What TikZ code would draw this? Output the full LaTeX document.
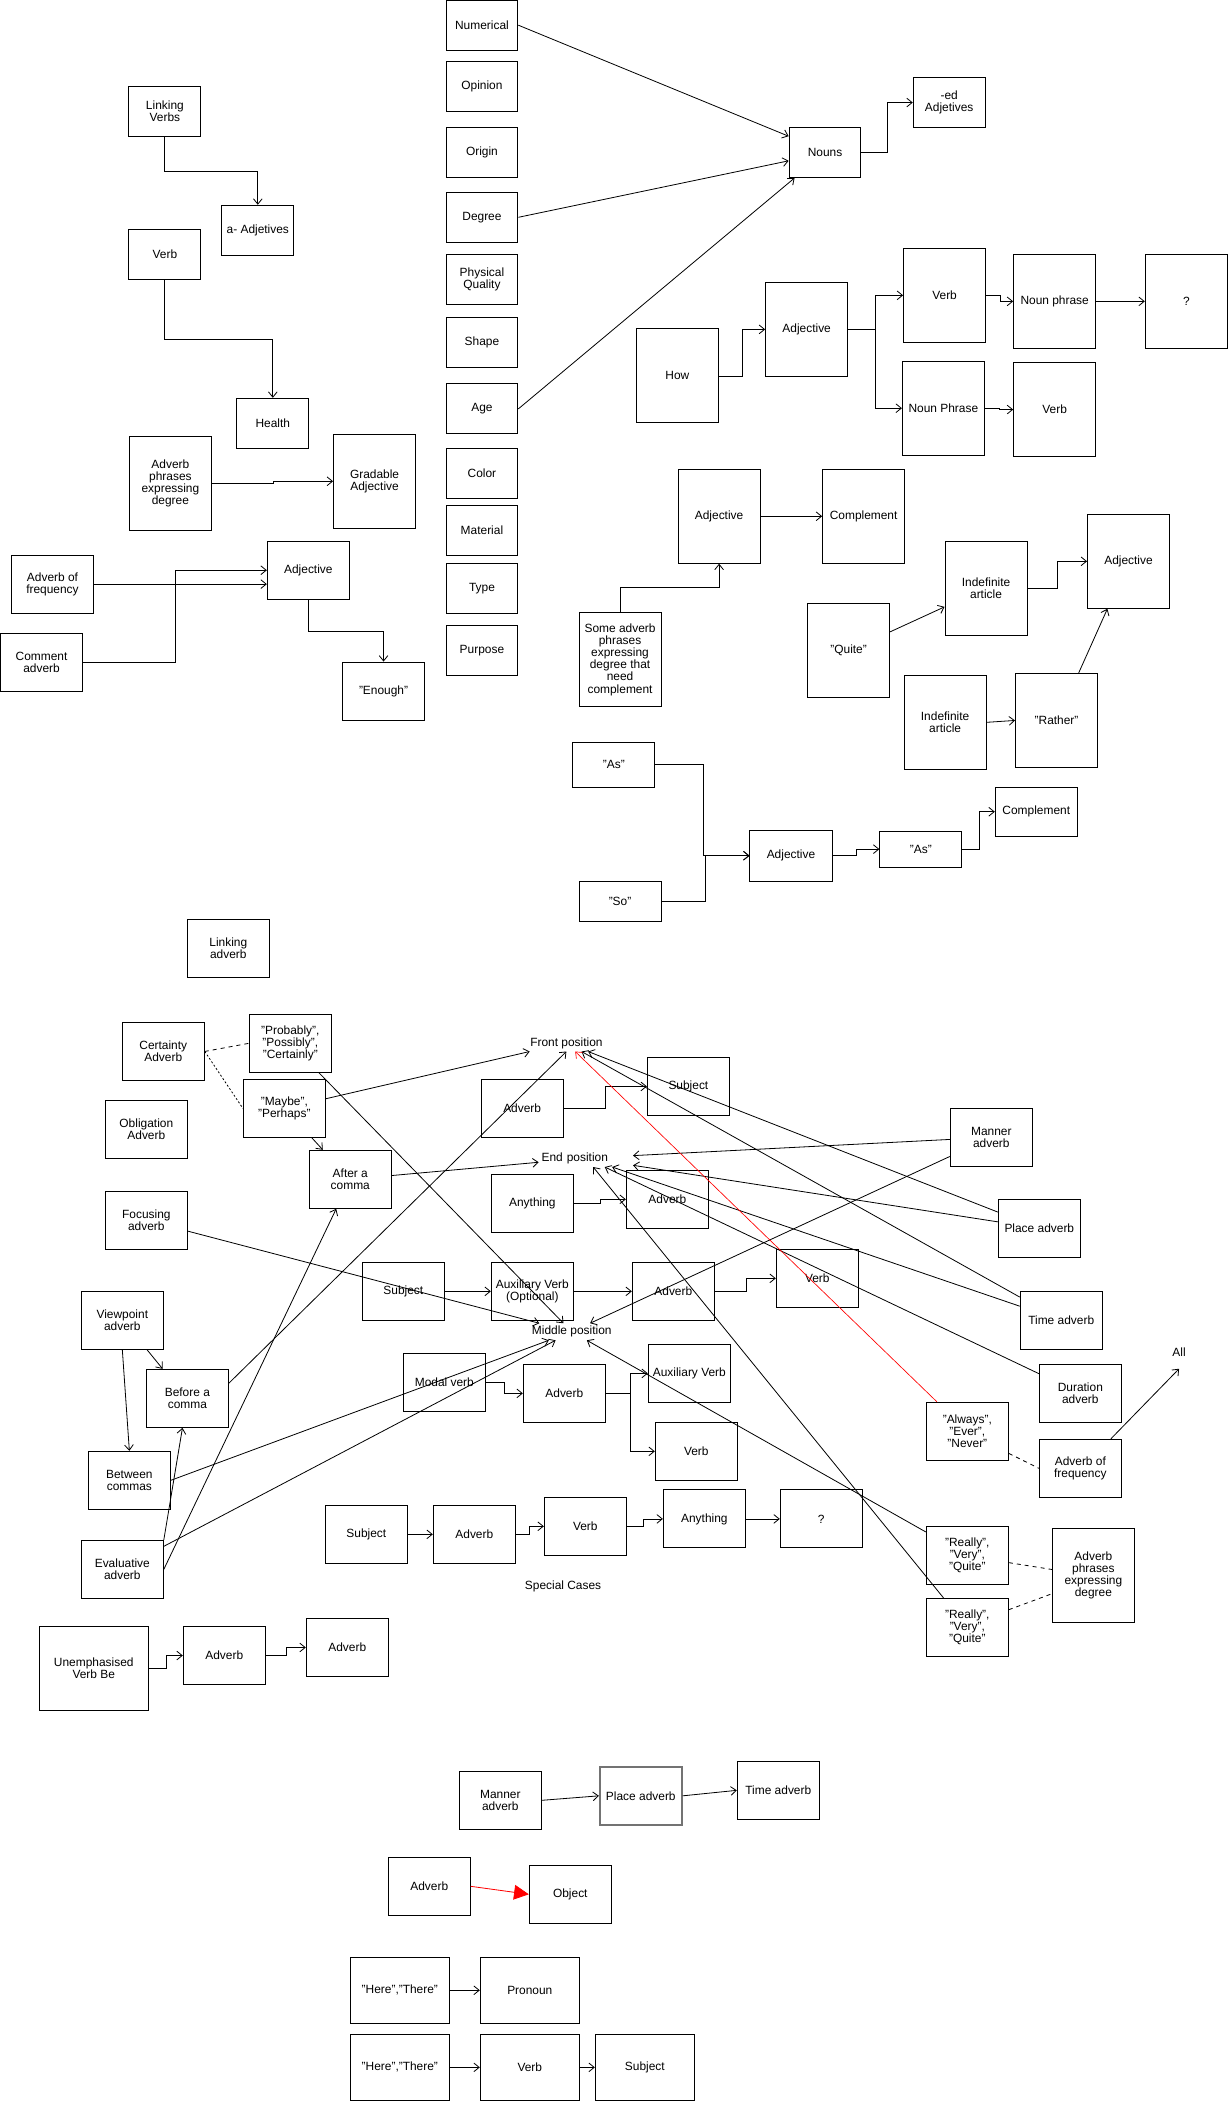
\documentclass[tikz,border=0pt]{standalone}
\usepackage{fontspec}
\setmainfont{Liberation Sans}
\usetikzlibrary{arrows.meta}

\begin{document}
\begin{tikzpicture}[x=1pt, y=-1pt,
		font=\fontsize{8.9}{9.1}\selectfont,
		>={Straight Barb[length=4pt,width=6.5pt]},
		box/.style={draw, line width=0.7pt, minimum width=61.2pt, minimum height=43.3pt, align=center, inner sep=1pt},
		sbox/.style={box, minimum width=53.6pt, minimum height=37.4pt},
		tbox/.style={box, minimum height=70.1pt},
		hbox/.style={box, minimum width=73.9pt, minimum height=49.2pt},
		lbl/.style={inner sep=2pt},
		link/.style={line width=0.6pt},
		arr/.style={link, ->},
		dashline/.style={link, dash pattern=on 3pt off 3pt}]
		\useasboundingbox (0,0) rectangle (916,1567.2);
		\fill[white] (0,0) rectangle (916,1567.2);
		
		\node[sbox] (lverbs) at (123,83) {Linking\\Verbs};
		\node[sbox] (aadj) at (192.3,171.8) {a- Adjetives};
		\node[sbox] (verba) at (123,189.5) {Verb};
		\node[sbox] (health) at (203.5,315.8) {Health};
		\node[tbox] (apeda) at (127.1,360.5) {Adverb\\phrases\\expressing\\degree};
		\node[tbox] (grad) at (279.4,359) {Gradable\\Adjective};
		\node[box] (aofa) at (39.15,435.7) {Adverb of\\frequency};
		\node[box] (comm) at (31,494.05) {Comment\\adverb};
		\node[box] (adja) at (230,425.35) {Adjective};
		\node[box] (enough) at (286.1,515.5) {"Enough"};
		
		\node[sbox] (numer) at (359.5,18.8) {Numerical};
		\node[sbox] (opin) at (359.5,64.3) {Opinion};
		\node[sbox] (origin) at (359.5,114) {Origin};
		\node[sbox] (degr) at (359.5,162.1) {Degree};
		\node[sbox] (phys) at (359.5,208.2) {Physical\\Quality};
		\node[sbox] (shape) at (359.5,255.2) {Shape};
		\node[sbox] (age) at (359.5,305) {Age};
		\node[sbox] (color) at (359.5,353.3) {Color};
		\node[sbox] (mater) at (359.5,395.7) {Material};
		\node[sbox] (type) at (359.5,438.8) {Type};
		\node[sbox] (purp) at (359.5,485) {Purpose};
		
		\node[sbox] (nouns) at (615.4,113.7) {Nouns};
		\node[sbox] (edadj) at (708,76.5) {-ed\\Adjetives};
		
		\node[tbox] (how) at (505.3,280.4) {How};
		\node[tbox] (adjm) at (601.7,245.7) {Adjective};
		\node[tbox] (verbm) at (704.6,220.3) {Verb};
		\node[tbox] (nphr) at (786.7,224.8) {Noun phrase};
		\node[tbox] (qmark) at (884.9,224.8) {?};
		\node[tbox] (nphrb) at (703.7,304.5) {Noun Phrase};
		\node[tbox] (verbn) at (786.7,305.5) {Verb};
		
		\node[tbox] (adjc) at (536.4,385.1) {Adjective};
		\node[tbox] (compc) at (644.2,385.1) {Complement};
		\node[tbox] (sap) at (462.5,491.9) {Some adverb\\phrases\\expressing\\degree that\\need\\complement};
		\node[tbox] (quite) at (633,485.1) {"Quite"};
		\node[tbox] (inda) at (735.5,438.9) {Indefinite\\article};
		\node[tbox] (adjr) at (841.8,418.7) {Adjective};
		\node[tbox] (indb) at (705,538.8) {Indefinite\\article};
		\node[tbox] (rather) at (788.1,537.4) {"Rather"};
		
		\node[box, minimum height=33.6pt] (asa) at (457.9,570.5) {"As"};
		\node[box, minimum height=29.8pt] (so) at (462.5,672.3) {"So"};
		\node[box, minimum height=38.3pt] (adjb) at (590,638.3) {Adjective};
		\node[box, minimum height=26.6pt] (asb) at (686.9,633.4) {"As"};
		\node[box, minimum height=36.5pt] (compb) at (773,605.5) {Complement};
		
		\draw[arr] (lverbs.south) -- ++(0,25.8) -| (aadj.north);
		\draw[arr] (verba.south) -- ++(0,44.7) -| (health.north);
		\draw[arr] (apeda.east) -- ++(45.6,0) |- (grad.west);
		\draw[arr] (aofa.east) -- (aofa.east -| adja.west);
		\draw[arr] (comm.east) -- ++(69,0) |- (adja.west);
		\draw[arr] (adja.south) -- ++(0,23.6) -| (enough.north);
		\draw[arr] (numer.east) -- (nouns.156);
		\draw[arr] (degr.east) -- (nouns.193);
		\draw[arr] (age.east) -- (nouns.220);
		\draw[arr] (nouns.east) -- ++(19.7,0) |- (edadj.west);
		\draw[arr] (how.east) -- ++(17.5,0) |- (adjm.west);
		\draw[arr] (adjm.east) -- ++(20.5,0) |- (verbm.west);
		\draw[arr] (adjm.east) -- ++(20.5,0) |- (nphrb.west);
		\draw[arr] (verbm.east) -- ++(10.5,0) |- (nphr.west);
		\draw[arr] (nphr.east) -- (qmark.west);
		\draw[arr] (nphrb.east) -- ++(11,0) |- (verbn.west);
		\draw[arr] (adjc.east) -- (compc.west);
		\draw[arr] (sap.north) -- ++(0,-18.4) -| (adjc.south);
		\draw[arr] (quite.24) -- (inda.204);
		\draw[arr] (inda.east) -- ++(22.4,0) |- (adjr.west);
		\draw[arr] (indb.east) -- (rather.west);
		\draw[arr] (rather.65) -- (adjr.246);
		\draw[arr] (asa.east) -- ++(35.7,0) |- (adjb.west);
		\draw[arr] (so.east) -- ++(33,0) |- (adjb.west);
		\draw[arr] (adjb.east) -- ++(18.2,0) |- (asb.west);
		\draw[arr] (asb.east) -- ++(12.4,0) |- (compb.west);
		
		\node[box] (linkadv) at (170.3,707.4) {Linking\\adverb};
		\node[box] (cert) at (121.8,784.3) {Certainty\\Adverb};
		\node[box] (prob) at (216.55,778.25) {"Probably",\\"Possibly",\\"Certainly"};
		\node[box] (maybe) at (212.1,826.75) {"Maybe",\\"Perhaps"};
		\node[box] (oblig) at (109.15,842.4) {Obligation\\Adverb};
		\node[box] (after) at (261.3,879.65) {After a\\comma};
		\node[box] (focus) at (109.15,910.25) {Focusing\\adverb};
		\node[lbl] (front) at (422.5,778) {Front position};
		\node[lbl, text width=66pt, align=left, minimum height=13pt] (endpos) at (437,863.8) {End position};
		\node[lbl] (mid) at (426.5,993.4) {Middle position};
		\node[box] (advf) at (389.5,826.7) {Adverb};
		\node[box] (subjf) at (513.5,810.4) {Subject};
		\node[box] (anyth) at (397.1,897.6) {Anything};
		\node[box] (adve) at (497.8,894.6) {Adverb};
		\node[box] (manner) at (739.45,848.35) {Manner\\adverb};
		\node[box] (place) at (775.25,916.2) {Place adverb};
		\node[box] (subjm) at (300.85,963.25) {Subject};
		\node[box] (auxo) at (397.1,963.25) {Auxiliary Verb\\(Optional)};
		\node[box] (advm) at (502.25,963.25) {Adverb};
		\node[box] (verbr) at (609.65,953.55) {Verb};
		\node[box] (time) at (791.6,984.85) {Time adverb};
		\node[box] (viewp) at (91.25,984.85) {Viewpoint\\adverb};
		\node[box] (bac) at (139.75,1043.05) {Before a\\comma};
		\node[box] (modal) at (331.45,1031.1) {Modal verb};
		\node[box] (advd) at (420.95,1039.35) {Adverb};
		\node[box] (auxv) at (514.2,1024.45) {Auxiliary Verb};
		\node[box] (verbd) at (519.4,1082.6) {Verb};
		\node[box] (dur) at (805.85,1039.3) {Duration\\adverb};
		\node[lbl, minimum height=25pt] (all) at (879.5,1008.3) {All};
		\node[box] (alw) at (721.55,1067.65) {"Always",\\"Ever",\\"Never"};
		\node[box] (aofr) at (805.85,1095.25) {Adverb of\\frequency};
		\node[box] (betw) at (96.5,1104.2) {Between\\commas};
		\node[box] (eval) at (91.25,1170.6) {Evaluative\\adverb};
		\node[box] (subjs) at (273.25,1144.5) {Subject};
		\node[box] (advs) at (353.8,1144.5) {Adverb};
		\node[box] (verbs) at (436.6,1138.5) {Verb};
		\node[box] (anys) at (525.4,1133) {Anything};
		\node[box] (qs) at (612.6,1133) {?};
		\node[box] (rvqa) at (721.55,1160.15) {"Really",\\"Very",\\"Quite"};
		\node[box] (rvqb) at (721.55,1213.85) {"Really",\\"Very",\\"Quite"};
		\node[tbox] (apedr) at (815.55,1175.05) {Adverb\\phrases\\expressing\\degree};
		\node[lbl] (special) at (420,1183) {Special Cases};
		\node[box, minimum width=81.3pt, minimum height=62.4pt] (uvb) at (69.95,1244.6) {Unemphasised\\Verb Be};
		\node[box] (advu) at (167.3,1234.9) {Adverb};
		\node[box] (advv) at (259.05,1228.9) {Adverb};
		
		\node[box] (manb) at (373.2,1342.9) {Manner\\adverb};
		\node[box, draw=black!55, line width=1.3pt] (placeb) at (478,1339.55) {Place adverb};
		\node[box] (timeb) at (580.55,1335.45) {Time adverb};
		\node[box] (advo) at (320.2,1407.05) {Adverb};
		\node[box] (obj) at (425.4,1413) {Object};
		\node[hbox] (herea) at (298.25,1484.6) {"Here","There"};
		\node[hbox] (pron) at (395.2,1484.6) {Pronoun};
		\node[hbox] (hereb) at (298.25,1542.1) {"Here","There"};
		\node[hbox] (verbz) at (395.2,1542.1) {Verb};
		\node[hbox] (subjz) at (481,1542.1) {Subject};
		
		\draw[dashline] (cert.east) -- (prob.west);
		\draw[link, dash pattern=on 1.5pt off 1.5pt] (cert.east) -- (maybe.west);
		\draw[arr] (maybe.-47) -- (after.133);
		\draw[arr] (maybe) -- (front);
		\draw[arr] (prob) -- (mid);
		\draw[arr] (after) -- (endpos);
		\draw[arr] (focus) -- (mid);
		\draw[arr] (bac.20) -- (front.south);
		\draw[arr] (advf.east) -- ++(31.3,0) |- (subjf.west);
		\draw[arr] (anyth.east) -- ++(20,0) |- (adve.west);
		\draw[arr] (manner) -- (endpos);
		\draw[arr] (manner) -- (mid);
		\draw[arr] (place) -- (front);
		\draw[arr] (place) -- (endpos);
		\draw[arr] (time) -- (front);
		\draw[arr] (time) -- (endpos);
		\draw[arr] (dur) -- (endpos);
		\draw[arr, red, line width=0.5pt] (alw) -- (front);
		\draw[arr] (rvqa) -- (mid);
		\draw[arr] (rvqb) -- (endpos);
		\draw[arr] (subjm.east) -- (auxo.west);
		\draw[arr] (auxo.east) -- (advm.west);
		\draw[arr] (advm.east) -- ++(23.2,0) |- (verbr.west);
		\draw[arr] (viewp.-50) -- (bac.130);
		\draw[arr] (viewp.south) -- (betw.north);
		\draw[arr] (modal.east) -- ++(13.9,0) |- (advd.west);
		\draw[arr] (advd.east) -- ++(18.7,0) |- (auxv.west);
		\draw[arr] (advd.east) -- ++(18.7,0) |- (verbd.west);
		\draw[arr] (eval.north east) -- (bac);
		\draw[arr] (eval.east) -- (after);
		\draw[arr] (eval.29) -- (mid);
		\draw[arr] (betw.east) -- (mid);
		\draw[arr] (aofr.44) -- (all.south);
		\draw[dashline] (alw.-28) -- (aofr.west);
		\draw[dashline] (rvqa.-10) -- (apedr.172);
		\draw[dashline] (rvqb.23) -- (apedr.204);
		\draw[arr] (subjs.east) -- (advs.west);
		\draw[arr] (advs.east) -- ++(10,0) |- (verbs.west);
		\draw[arr] (verbs.east) -- ++(12.7,0) |- (anys.west);
		\draw[arr] (anys.east) -- (qs.west);
		\draw[arr] (uvb.east) -- ++(13.2,0) |- (advu.west);
		\draw[arr] (advu.east) -- ++(15.4,0) |- (advv.west);
		
		\draw[arr] (manb.east) -- (placeb.west);
		\draw[arr] (placeb.east) -- (timeb.west);
		\draw[link, red, -{Triangle[length=11pt,width=11pt]}] (advo.east) -- (obj.west);
		\draw[arr] (herea.east) -- (pron.west);
		\draw[arr] (hereb.east) -- (verbz.west);
		\draw[arr] (verbz.east) -- (subjz.west);
		
	\end{tikzpicture}
\end{document}
